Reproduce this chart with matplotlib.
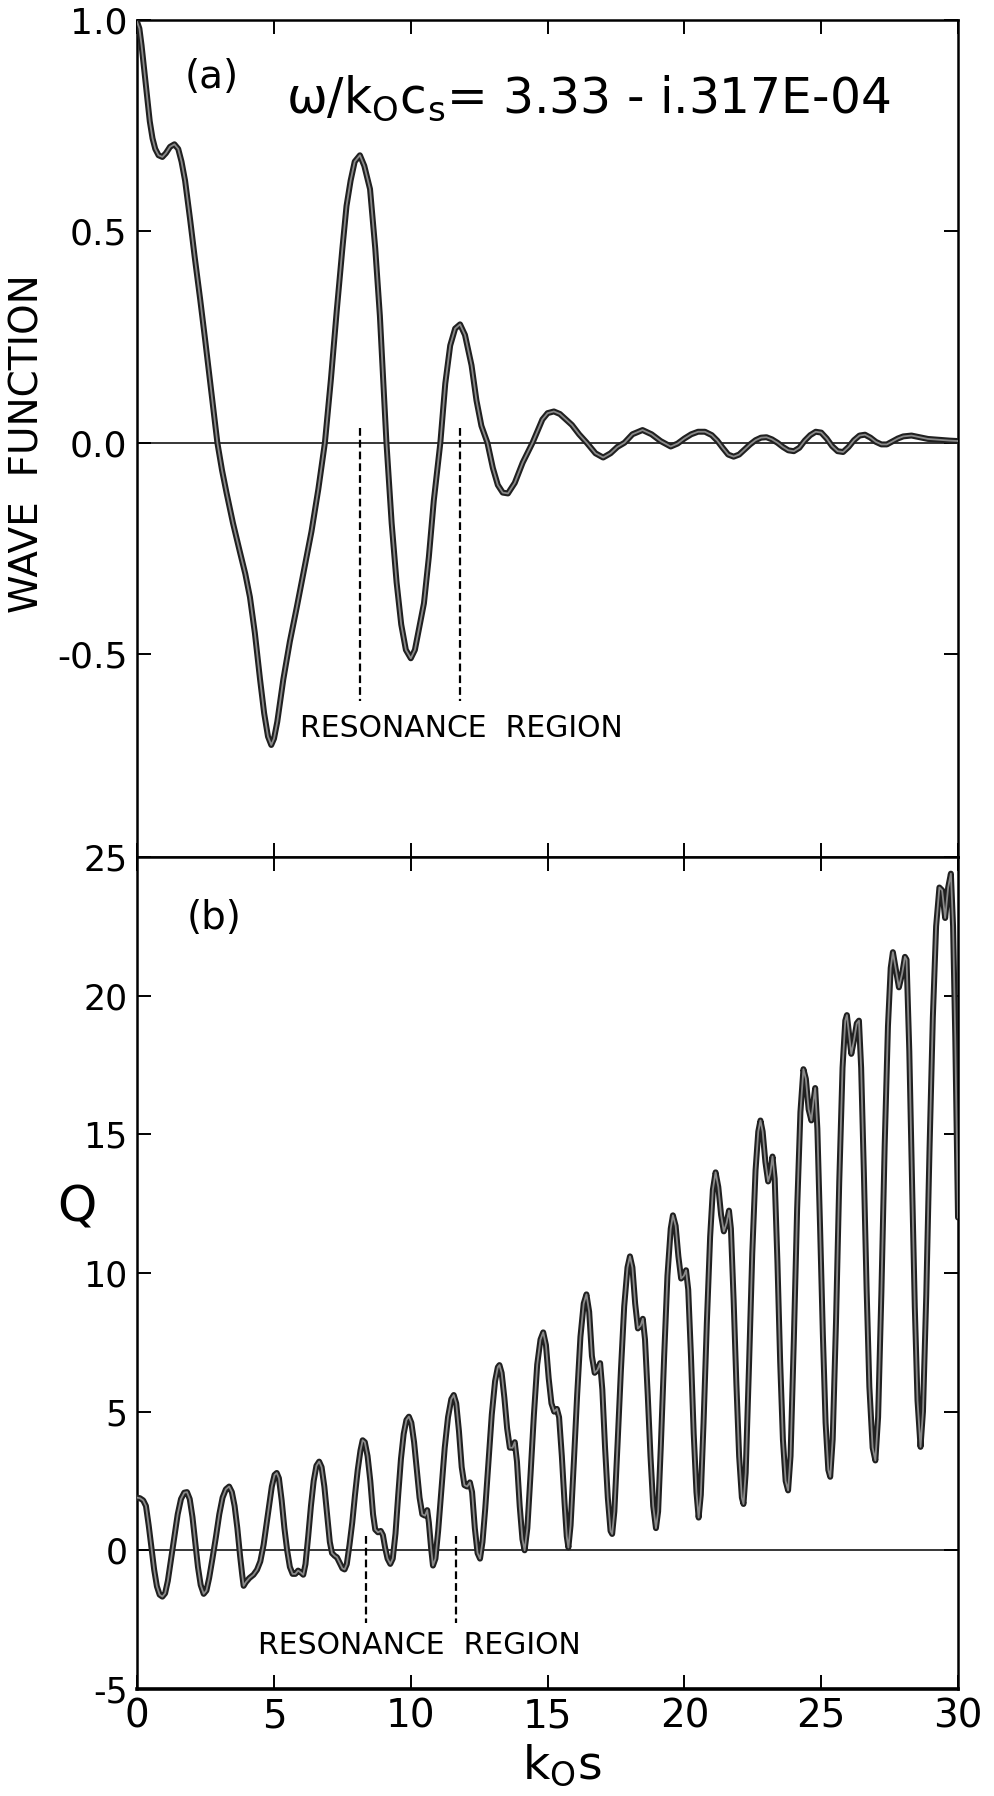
import numpy as np
import matplotlib
matplotlib.use("Agg")
import matplotlib.pyplot as plt

plt.rcParams['font.family'] = ['DejaVu Sans']
plt.rcParams['mathtext.fontset'] = 'dejavusans'
plt.rcParams['axes.unicode_minus'] = False

# ---------------- data ----------------
# panel (a): wave function vs k0 s
wave_x = [0.00, 0.08, 0.16, 0.26, 0.36, 0.46, 0.56, 0.66, 0.78, 0.92, 1.05, 1.20,
          1.36, 1.50, 1.62, 1.75, 1.93, 2.10, 2.30, 2.48, 2.66, 2.80, 2.93, 3.10,
          3.27, 3.50, 3.76, 3.95, 4.12, 4.30, 4.49, 4.64, 4.78, 4.90, 5.00, 5.12,
          5.34, 5.58, 5.83, 6.10, 6.37, 6.62, 6.86, 7.08, 7.29, 7.50, 7.65, 7.80,
          7.95, 8.14, 8.30, 8.51, 8.70, 8.87, 9.00, 9.11, 9.30, 9.48, 9.65, 9.82,
          10.00, 10.15, 10.30, 10.48, 10.66, 10.84, 11.08, 11.26, 11.44, 11.62,
          11.80, 11.98, 12.22, 12.40, 12.58, 12.80, 13.00, 13.18, 13.36, 13.55,
          13.80, 14.09, 14.45, 14.81, 15.00, 15.23, 15.45, 15.89, 16.15, 16.43,
          16.75, 17.03, 17.30, 17.55, 17.81, 18.10, 18.47, 18.80, 19.13, 19.50,
          19.75, 20.00, 20.25, 20.50, 20.75, 21.00, 21.20, 21.40, 21.60, 21.80,
          22.00, 22.20, 22.40, 22.60, 22.80, 23.00, 23.20, 23.40, 23.60, 23.80,
          24.00, 24.20, 24.40, 24.60, 24.80, 25.00, 25.20, 25.40, 25.60, 25.80,
          26.00, 26.20, 26.40, 26.60, 26.80, 27.00, 27.20, 27.40, 27.60, 27.80,
          28.00, 28.30, 28.60, 28.90, 29.30, 29.70, 30.00]
wave_y = [0.995, 0.98, 0.94, 0.88, 0.82, 0.76, 0.72, 0.695, 0.68, 0.676, 0.685, 0.70,
          0.706, 0.695, 0.665, 0.62, 0.53, 0.44, 0.34, 0.245, 0.147, 0.07, 0.0, -0.065,
          -0.12, -0.19, -0.26, -0.31, -0.365, -0.45, -0.56, -0.64, -0.695, -0.715, -0.70, -0.66,
          -0.56, -0.47, -0.39, -0.30, -0.21, -0.11, 0.0, 0.15, 0.31, 0.46, 0.56, 0.62,
          0.665, 0.68, 0.655, 0.60, 0.46, 0.30, 0.14, 0.0, -0.19, -0.33, -0.43, -0.49,
          -0.51, -0.49, -0.44, -0.38, -0.27, -0.137, 0.0, 0.14, 0.23, 0.27,
          0.28, 0.255, 0.183, 0.10, 0.04, 0.0, -0.06, -0.10, -0.118, -0.12,
          -0.095, -0.047, 0.0, 0.055, 0.07, 0.074, 0.068, 0.042, 0.02, 0.0,
          -0.025, -0.035, -0.025, -0.01, 0.0, 0.02, 0.03, 0.02, 0.004, -0.009,
          -0.002, 0.01, 0.02, 0.026, 0.026, 0.018, 0.005, -0.012, -0.028, -0.033,
          -0.028, -0.016, -0.004, 0.006, 0.012, 0.013, 0.008, 0.0, -0.01, -0.018,
          -0.02, -0.012, 0.005, 0.018, 0.026, 0.024, 0.01, -0.008, -0.02, -0.022,
          -0.01, 0.006, 0.017, 0.019, 0.012, 0.002, -0.004, -0.004, 0.003, 0.01,
          0.015, 0.017, 0.013, 0.009, 0.007, 0.005, 0.004]

# panel (b): Q vs k0 s
q_x = [0.00, 0.10, 0.22, 0.32, 0.42, 0.52, 0.62, 0.72, 0.82, 0.92, 1.02, 1.12, 1.24,
       1.36, 1.48, 1.60, 1.72, 1.82, 1.92, 2.02, 2.12, 2.22, 2.32, 2.43, 2.53, 2.63,
       2.75, 2.88, 3.00, 3.12, 3.24, 3.36, 3.46, 3.56, 3.66, 3.76, 3.84, 3.89, 3.97,
       4.10, 4.25, 4.38, 4.50, 4.62, 4.72, 4.82, 4.92, 5.02, 5.10, 5.18, 5.28, 5.38,
       5.48, 5.58, 5.68, 5.78, 5.88, 5.98, 6.07, 6.15, 6.25, 6.35, 6.45, 6.55, 6.65,
       6.74, 6.84, 6.94, 7.04, 7.12, 7.22, 7.30, 7.40, 7.50, 7.58, 7.66, 7.76, 7.86,
       7.96, 8.06, 8.16, 8.24, 8.32, 8.42, 8.52, 8.62, 8.70, 8.80, 8.90, 8.98, 9.06,
       9.15, 9.25, 9.34, 9.44, 9.54, 9.64, 9.74, 9.84, 9.93, 10.02, 10.12, 10.22,
       10.32, 10.42, 10.52, 10.60, 10.66, 10.74, 10.81, 10.90, 11.00, 11.12, 11.24,
       11.36, 11.48, 11.57, 11.66, 11.76, 11.86, 11.96, 12.06, 12.16, 12.24, 12.34,
       12.44, 12.53, 12.62, 12.72, 12.84, 12.96, 13.08, 13.18, 13.24, 13.32, 13.42,
       13.52, 13.62, 13.72, 13.80, 13.88, 13.98, 14.08, 14.16, 14.26, 14.38, 14.50,
       14.62, 14.74, 14.84, 14.94, 15.04, 15.14, 15.24, 15.34, 15.42, 15.52, 15.62,
       15.70, 15.76, 15.84, 15.96, 16.08, 16.20, 16.32, 16.42, 16.52, 16.62, 16.72,
       16.82, 16.92, 17.00, 17.10, 17.20, 17.30, 17.36, 17.44, 17.56, 17.68, 17.80,
       17.92, 18.01, 18.10, 18.20, 18.30, 18.40, 18.48, 18.56, 18.66, 18.76, 18.86,
       18.96, 19.04, 19.14, 19.26, 19.38, 19.50, 19.58, 19.68, 19.78, 19.88, 19.98,
       20.06, 20.14, 20.24, 20.34, 20.44, 20.52, 20.60, 20.70, 20.82, 20.94, 21.04,
       21.14, 21.24, 21.34, 21.44, 21.54, 21.63, 21.70, 21.80, 21.90, 22.00, 22.10,
       22.16, 22.24, 22.36, 22.48, 22.60, 22.70, 22.78, 22.86, 22.96, 23.06, 23.14,
       23.22, 23.30, 23.40, 23.50, 23.60, 23.70, 23.79, 23.88, 24.00, 24.12, 24.24,
       24.35, 24.44, 24.54, 24.64, 24.72, 24.78, 24.86, 24.96, 25.06, 25.16, 25.26,
       25.33, 25.42, 25.54, 25.66, 25.78, 25.88, 25.94, 26.02, 26.10, 26.20, 26.30,
       26.38, 26.46, 26.56, 26.66, 26.76, 26.88, 26.98, 27.08, 27.20, 27.32, 27.44,
       27.54, 27.62, 27.72, 27.84, 27.96, 28.06, 28.12, 28.22, 28.32, 28.42, 28.52,
       28.63, 28.72, 28.84, 28.96, 29.08, 29.20, 29.32, 29.42, 29.53, 29.64, 29.74,
       29.82, 29.90, 30.00]
q_y = [1.9, 1.88, 1.8, 1.6, 0.9, 0.1, -0.7, -1.3, -1.6, -1.67, -1.55, -1.1, -0.3,
       0.5, 1.3, 1.85, 2.08, 2.1, 1.85, 1.2, 0.3, -0.6, -1.25, -1.57, -1.45, -1.0,
       -0.3, 0.5, 1.3, 1.9, 2.2, 2.3, 2.1, 1.6, 0.8, -0.2, -0.9, -1.28, -1.15,
       -1.0, -0.88, -0.7, -0.4, 0.2, 0.9, 1.6, 2.3, 2.72, 2.79, 2.6, 1.8, 0.8,
       0.0, -0.6, -0.85, -0.85, -0.73, -0.8, -0.88, -0.5, 0.5, 1.6, 2.5, 3.05, 3.2,
       3.0, 2.3, 1.3, 0.3, -0.1, -0.2, -0.25, -0.45, -0.65, -0.69, -0.5, 0.2, 1.0,
       2.0, 2.9, 3.6, 3.97, 3.9, 3.4, 2.5, 1.3, 0.75, 0.65, 0.7, 0.55, 0.1,
       -0.3, -0.49, -0.3, 0.6, 2.0, 3.3, 4.2, 4.7, 4.82, 4.6, 3.9, 2.9,
       1.9, 1.3, 1.25, 1.45, 1.0, 0.1, -0.55, -0.3, 0.7, 2.2, 3.7,
       4.8, 5.45, 5.6, 5.3, 4.3, 3.0, 2.35, 2.3, 2.45, 2.1, 0.8,
       -0.1, -0.3, 0.3, 1.5, 3.2, 4.9, 6.1, 6.6, 6.68, 6.4, 5.5,
       4.4, 3.7, 3.7, 3.9, 3.2, 1.6, 0.4, 0.0, 0.8, 2.8, 4.9,
       6.7, 7.6, 7.86, 7.4, 6.2, 5.3, 5.0, 5.1, 4.8, 3.4, 1.7,
       0.5, 0.1, 0.9, 3.2, 5.6, 7.7, 8.9, 9.23, 8.6, 7.0, 6.4,
       6.5, 6.75, 5.8, 3.7, 1.9, 0.7, 0.59, 1.4, 3.9, 6.5, 8.8,
       10.2, 10.6, 10.2, 8.9, 8.0, 8.1, 8.35, 7.6, 5.6, 3.4, 1.6,
       0.8, 1.4, 3.8, 7.0, 9.9, 11.6, 12.08, 11.7, 10.6, 9.8, 9.9,
       10.1, 9.4, 7.0, 4.2, 2.1, 1.18, 2.0, 4.6, 8.2, 11.3, 13.0,
       13.63, 13.1, 12.1, 11.5, 11.8, 12.25, 11.6, 9.0, 6.0, 3.4, 1.9,
       1.67, 2.8, 6.6, 10.7, 13.7, 15.1, 15.5, 15.1, 14.0, 13.3, 13.6,
       14.2, 13.4, 10.4, 6.8, 4.0, 2.5, 2.16, 3.4, 7.6, 12.3, 15.8,
       17.35, 17.0, 15.9, 15.5, 16.2, 16.67, 15.2, 11.6, 7.8, 4.6, 2.9,
       2.65, 4.0, 8.2, 13.3, 17.4, 19.1, 19.3, 18.6, 17.9, 18.4, 19.0,
       19.1, 17.4, 13.6, 9.4, 5.9, 3.7, 3.24, 4.8, 9.3, 14.6, 18.9,
       21.0, 21.57, 21.0, 20.3, 20.8, 21.4, 21.3, 18.0, 13.3, 8.8, 5.4,
       3.73, 5.0, 9.2, 14.5, 19.2, 22.5, 23.9, 23.8, 22.8, 23.9, 24.4,
       22.5, 18.5, 12.0]

# resonance region markers
res_a = [8.15, 11.78]
res_b = [8.38, 11.66]

x_ticks = [0, 5, 10, 15, 20, 25, 30]
a_ticks = [-0.5, 0.0, 0.5, 1.0]
a_ticklabels = ['-0.5', '0.0', '0.5', '1.0']
b_ticks = [-5, 0, 5, 10, 15, 20, 25]
b_ticklabels = ['-5', '0', '5', '10', '15', '20', '25']

# ---------------- figure ----------------
W, H = 994, 1796
fig = plt.figure(figsize=(W / 100, H / 100), dpi=100)
left = 137.2 / W
width = (958.0 - 137.2) / W
ax1 = fig.add_axes([left, 1 - 857 / H, width, (857 - 20) / H])
ax2 = fig.add_axes([left, 1 - 1689 / H, width, (1689 - 857) / H])

dark = '#202020'
light = '#8a8a8a'

for ax in (ax1, ax2):
    ax.set_xlim(0, 30)
    ax.axhline(0, color='black', lw=1.1, zorder=1)
    ax.set_xticks(x_ticks)
    ax.tick_params(axis='both', which='both', direction='in', length=10, width=1.4,
                   top=True, right=True, color='black')
    for s in ax.spines.values():
        s.set_linewidth(1.8)
        s.set_color('black')

# panel (a)
ax1.plot(wave_x, wave_y, color=dark, lw=4.3, solid_joinstyle='round',
         solid_capstyle='round', zorder=3)
ax1.plot(wave_x, wave_y, color=light, lw=1.3, solid_joinstyle='round', zorder=4)
ax1.set_ylim(-0.98, 1.0)
ax1.set_yticks(a_ticks)
ax1.set_yticklabels(a_ticklabels)
ax1.tick_params(axis='y', labelsize=26, pad=7)
ax1.tick_params(axis='x', labelbottom=False)
for xv in res_a:
    ax1.plot([xv, xv], [0.035, -0.61], color='black', lw=1.6,
             ls=(0, (3.5, 1.8)), zorder=2)
ax1.text(5.96, -0.675, 'RESONANCE  REGION', fontsize=21.5, va='center', ha='left')
ax1.text(1.75, 0.865, '(a)', fontsize=28, va='center', ha='left')
ax1.text(5.44, 0.78, 'ω/$\\mathrm{k_O c_s}$= 3.33 - i.317E-04', fontsize=35,
         va='baseline', ha='left')

# panel (b)
ax2.plot(q_x, q_y, color=dark, lw=4.3, solid_joinstyle='round',
         solid_capstyle='round', zorder=3)
ax2.plot(q_x, q_y, color=light, lw=1.3, solid_joinstyle='round', zorder=4)
ax2.set_ylim(-5, 25)
ax2.set_yticks(b_ticks)
ax2.set_yticklabels(b_ticklabels)
ax2.set_xticklabels([str(v) for v in x_ticks])
ax2.tick_params(axis='y', labelsize=25, pad=7)
ax2.tick_params(axis='x', labelsize=28, pad=6)
ax2.spines['bottom'].set_linewidth(2.6)
for xv in res_b:
    ax2.plot([xv, xv], [0.5, -2.62], color='black', lw=1.6,
             ls=(0, (3.5, 1.8)), zorder=2)
ax2.text(4.4, -3.43, 'RESONANCE  REGION', fontsize=21.5, va='center', ha='left')
ax2.text(1.8, 22.8, '(b)', fontsize=28, va='center', ha='left')

# axis labels
fig.text(28 / W, 1 - 444 / H, 'WAVE  FUNCTION', rotation=90, fontsize=28,
         va='center', ha='center')
fig.text(77 / W, 1 - 1207 / H, 'Q', fontsize=36, va='center', ha='center')
fig.text(562 / W, 1 - 1778 / H, '$\\mathrm{k_O s}$', fontsize=34,
         va='baseline', ha='center')

fig.savefig('out.png', dpi=100)
